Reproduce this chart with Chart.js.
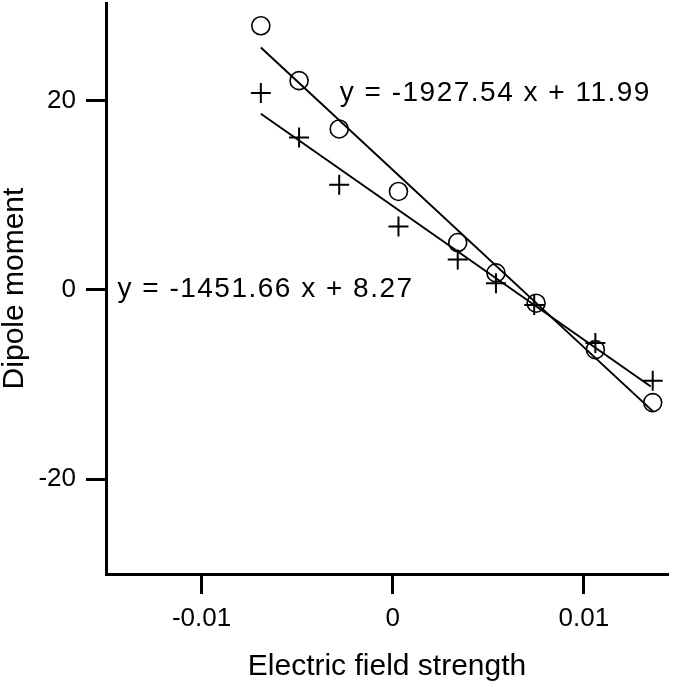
<!DOCTYPE html>
<html>
<head>
<meta charset="utf-8">
<script src="https://cdn.jsdelivr.net/npm/chart.js@4.4.1/dist/chart.umd.min.js"></script>
<style>
  html, body { margin: 0; padding: 0; background: #fff; }
  #wrap { width: 685px; height: 687px; }
</style>
</head>
<body>
<div id="wrap"><canvas id="c" width="685" height="687"></canvas></div>
<script>
// Data
const circleX = [-0.0069, -0.0049, -0.0028, 0.0003, 0.0034, 0.0054, 0.0075, 0.0106, 0.0136];
const circleY = [27.9, 22.1, 17.0, 10.4, 5.0, 1.8, -1.4, -6.3, -11.9];
const crossX  = [-0.0069, -0.0049, -0.0028, 0.0003, 0.0034, 0.0054, 0.0074, 0.0106, 0.0136];
const crossY  = [20.8, 16.1, 11.1, 6.7, 3.2, 0.7, -1.6, -5.6, -9.6];
const fitCircleX = [-0.0069, 0.0136];
const fitCircleY = [25.6, -12.8];
const fitCrossX  = [-0.0069, 0.0135];
const fitCrossY  = [18.6, -10.2];
const xTickValues = [-0.01, 0, 0.01];
const xTickLabels = ['-0.01', '0', '0.01'];
const yTickValues = [-20, 0, 20];
const yTickLabels = ['-20', '0', '20'];
const equationTexts = ['y = -1927.54 x + 11.99', 'y = -1451.66 x + 8.27'];
const xTitle = 'Electric field strength';
const yTitle = 'Dipole moment';

const pts = (xs, ys) => xs.map((x, i) => ({x: x, y: ys[i]}));
const FONT = '"Liberation Sans", Arial, sans-serif';

const whiteBg = {
  id: 'whiteBg',
  beforeDraw(chart) {
    const ctx = chart.ctx;
    ctx.save();
    ctx.fillStyle = '#fff';
    ctx.fillRect(0, 0, chart.width, chart.height);
    ctx.restore();
  }
};

// Equation labels anchored in data coordinates (left edge, baseline)
const eqAnchors = [{x: -0.00277, y: 20.0}, {x: -0.0144, y: -0.74}];
const equations = {
  id: 'equations',
  afterDatasetsDraw(chart) {
    const ctx = chart.ctx;
    const xs = chart.scales.x, ys = chart.scales.y;
    ctx.save();
    ctx.fillStyle = '#000';
    ctx.font = '28px ' + FONT;
    ctx.textAlign = 'left';
    ctx.textBaseline = 'alphabetic';
    try { ctx.letterSpacing = '1.5px'; } catch (e) {}
    equationTexts.forEach((t, i) => {
      ctx.fillText(t, xs.getPixelForValue(eqAnchors[i].x), ys.getPixelForValue(eqAnchors[i].y));
    });
    ctx.restore();
  }
};

new Chart(document.getElementById('c'), {
  type: 'scatter',
  data: {
    datasets: [
      {
        type: 'line', data: pts(fitCircleX, fitCircleY),
        borderColor: '#000', borderWidth: 2, pointRadius: 0, fill: false, tension: 0
      },
      {
        type: 'line', data: pts(fitCrossX, fitCrossY),
        borderColor: '#000', borderWidth: 2, pointRadius: 0, fill: false, tension: 0
      },
      {
        data: pts(circleX, circleY), pointStyle: 'circle', pointRadius: 9,
        borderColor: '#000', backgroundColor: 'rgba(0,0,0,0)', pointBorderWidth: 1.6, borderWidth: 1.6
      },
      {
        data: pts(crossX, crossY), pointStyle: 'cross', pointRadius: 10,
        borderColor: '#000', pointBorderWidth: 2, borderWidth: 2
      }
    ]
  },
  options: {
    responsive: false,
    animation: false,
    devicePixelRatio: 1,
    clip: false,
    layout: { autoPadding: false, padding: { top: 3, right: 17, left: 0, bottom: 0 } },
    plugins: { legend: { display: false }, tooltip: { enabled: false } },
    scales: {
      x: {
        type: 'linear', min: -0.015, max: 0.0144,
        afterFit(s) { s.height = 113; s.paddingLeft = 0; s.paddingRight = 0; },
        afterBuildTicks(s) { s.ticks = xTickValues.map(v => ({value: v})); },
        grid: { drawOnChartArea: false, drawTicks: true, tickLength: 20, tickWidth: 3, tickColor: '#000' },
        border: { display: true, width: 3, color: '#000' },
        ticks: {
          color: '#000', padding: 9, maxRotation: 0, autoSkip: false,
          font: { family: FONT, size: 26 },
          callback: (v) => { const i = xTickValues.findIndex(t => Math.abs(t - v) < 1e-9); return i >= 0 ? xTickLabels[i] : ''; }
        },
        title: { display: true, text: xTitle, color: '#000', font: { family: FONT, size: 30, lineHeight: 1 }, padding: { top: 0, bottom: 5 } }
      },
      y: {
        type: 'linear', min: -30, max: 30.3,
        afterFit(s) { s.width = 106; s.paddingTop = 0; s.paddingBottom = 0; },
        afterBuildTicks(s) { s.ticks = yTickValues.map(v => ({value: v})); },
        grid: { drawOnChartArea: false, drawTicks: true, tickLength: 20, tickWidth: 3, tickColor: '#000' },
        border: { display: true, width: 3, color: '#000' },
        ticks: {
          color: '#000', padding: 10, autoSkip: false,
          font: { family: FONT, size: 26 },
          callback: (v) => { const i = yTickValues.findIndex(t => Math.abs(t - v) < 1e-9); return i >= 0 ? yTickLabels[i] : ''; }
        },
        title: { display: true, text: yTitle, color: '#000', font: { family: FONT, size: 30, lineHeight: 1 }, padding: { top: 0, bottom: 0 } }
      }
    }
  },
  plugins: [whiteBg, equations]
});
</script>
</body>
</html>
